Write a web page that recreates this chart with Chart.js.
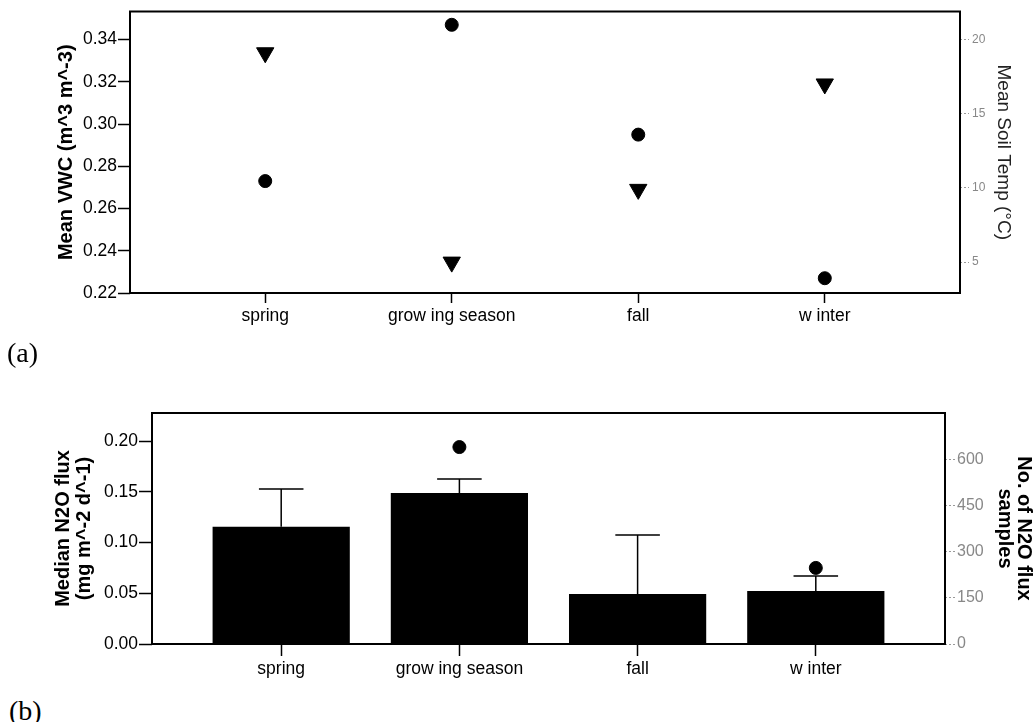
<!DOCTYPE html>
<html>
<head>
<meta charset="utf-8">
<script src="https://cdn.jsdelivr.net/npm/chart.js@4.4.0/dist/chart.umd.min.js"></script>
<style>
  body { margin: 0; background: #fff; }
  .panel { position: absolute; left: 0; }
  .tag { position: absolute; font-family: 'Liberation Serif', 'Times New Roman', serif; font-size: 28px; color: #000; }
</style>
</head>
<body>
<div class="panel" style="top:0"><canvas id="vwcChart" width="1035" height="340"></canvas></div>
<div class="tag" style="left:7px; top:337px">(a)</div>
<div class="panel" style="top:380px"><canvas id="fluxChart" width="1035" height="300"></canvas></div>
<div class="tag" style="left:9px; top:695px">(b)</div>
<script>
// seasons along the x axis
const seasons = ['spring', 'grow ing season', 'fall', 'w inter'];

// panel (a)
const vwcMean = [0.273, 0.347, 0.295, 0.227];
const soilTemp = [19.1, 5.0, 9.9, 17.0];
const vwcTicks = [0.22, 0.24, 0.26, 0.28, 0.30, 0.32, 0.34];
const tempTicks = [5, 10, 15, 20];

// panel (b)
const fluxMedian = [0.1155, 0.1488, 0.0493, 0.0522];
const fluxUpper = [0.1527, 0.1626, 0.1074, 0.0670];
const sampleCount = [null, 642, null, 248];
const fluxTicks = [0, 0.05, 0.10, 0.15, 0.20];
const sampleTicks = [0, 150, 300, 450, 600];

const sans = "'Liberation Sans', Arial, sans-serif";

function points(values) {
    return values.map((v, i) => ({ x: i, y: v }));
}

function fixedTicks(list) {
    return (s) => { s.ticks = list.map(v => ({ value: v })); };
}

// full black box around the plot area
const framePlugin = {
    id: 'frame',
    afterDraw(chart) {
        const ctx = chart.ctx;
        const a = chart.chartArea;
        ctx.save();
        ctx.strokeStyle = '#000';
        ctx.lineWidth = 2;
        ctx.strokeRect(a.left, a.top, a.right - a.left, a.bottom - a.top);
        ctx.restore();
    }
};

// upper whiskers on the bars
const errorBarPlugin = {
    id: 'errorBars',
    afterDatasetsDraw(chart) {
        const ctx = chart.ctx;
        const xs = chart.scales.x;
        const ys = chart.scales.y;
        const half = (xs.getPixelForValue(1) - xs.getPixelForValue(0)) * 0.125;
        ctx.save();
        ctx.strokeStyle = '#000';
        ctx.lineWidth = 1.5;
        fluxUpper.forEach((up, i) => {
            const px = xs.getPixelForValue(i);
            const y0 = ys.getPixelForValue(fluxMedian[i]);
            const y1 = ys.getPixelForValue(up);
            ctx.beginPath();
            ctx.moveTo(px, y0);
            ctx.lineTo(px, y1);
            ctx.moveTo(px - half, y1);
            ctx.lineTo(px + half, y1);
            ctx.stroke();
        });
        ctx.restore();
    }
};

function seasonAxis(tickLength, height) {
    return {
        type: 'linear',
        min: -0.725,
        max: 3.725,
        offset: false,
        border: { display: false },
        grid: { drawOnChartArea: false, offset: false, tickLength: tickLength, tickColor: '#000', tickWidth: 1.5 },
        ticks: {
            autoSkip: false,
            maxRotation: 0,
            padding: 3,
            color: '#000',
            font: { family: sans, size: 17.5 },
            callback: (v) => seasons[v]
        },
        afterBuildTicks: fixedTicks(seasons.map((s, i) => i)),
        afterFit: (s) => { s.height = height; }
    };
}

new Chart(document.getElementById('vwcChart').getContext('2d'), {
    type: 'scatter',
    data: {
        datasets: [{
            label: 'Mean VWC',
            data: points(vwcMean),
            yAxisID: 'y',
            pointStyle: 'circle',
            pointRadius: 6.5,
            backgroundColor: '#000',
            borderColor: '#000'
        }, {
            label: 'Mean Soil Temp',
            data: points(soilTemp),
            yAxisID: 'y2',
            pointStyle: 'triangle',
            pointRotation: 180,
            pointRadius: 10,
            backgroundColor: '#000',
            borderColor: '#000'
        }]
    },
    options: {
        responsive: false,
        animation: false,
        devicePixelRatio: 1,
        layout: { padding: { top: 11, left: 0, right: 0, bottom: 0 } },
        plugins: { legend: { display: false }, tooltip: { enabled: false } },
        scales: {
            x: seasonAxis(10, 47),
            y: {
                position: 'left',
                min: 0.22,
                max: 0.3533,
                border: { display: false },
                grid: { drawOnChartArea: false, tickLength: 12, tickColor: '#000', tickWidth: 1.5 },
                ticks: {
                    padding: 1,
                    color: '#000',
                    font: { family: sans, size: 17.5 },
                    callback: (v) => v.toFixed(2)
                },
                afterBuildTicks: fixedTicks(vwcTicks),
                title: {
                    display: true,
                    text: 'Mean VWC (m^3 m^-3)',
                    color: '#000',
                    font: { family: sans, size: 20, weight: 'bold', lineHeight: 1.2 },
                    padding: { top: 54, bottom: 0 }
                },
                afterFit: (s) => { s.width = 130; }
            },
            y2: {
                position: 'right',
                min: 2.92,
                max: 21.88,
                border: { display: false },
                grid: { drawOnChartArea: false, tickLength: 9, tickColor: '#999', tickWidth: 1, tickBorderDash: [2, 2] },
                ticks: {
                    padding: 3,
                    color: '#888',
                    font: { family: sans, size: 12 }
                },
                afterBuildTicks: fixedTicks(tempTicks),
                title: {
                    display: true,
                    text: 'Mean Soil Temp (°C)',
                    color: '#222',
                    font: { family: sans, size: 19, lineHeight: 1.2 },
                    padding: { top: 20, bottom: 0 }
                },
                afterFit: (s) => { s.width = 75; }
            }
        }
    },
    plugins: [framePlugin]
});

new Chart(document.getElementById('fluxChart').getContext('2d'), {
    type: 'bar',
    data: {
        datasets: [{
            type: 'scatter',
            label: 'No. of N2O flux samples',
            data: points(sampleCount),
            yAxisID: 'y2',
            order: 0,
            pointStyle: 'circle',
            pointRadius: 6.5,
            backgroundColor: '#000',
            borderColor: '#000'
        }, {
            type: 'bar',
            label: 'Median N2O flux',
            data: points(fluxMedian),
            yAxisID: 'y',
            order: 1,
            backgroundColor: '#000',
            borderWidth: 0,
            categoryPercentage: 1,
            barPercentage: 0.77
        }]
    },
    options: {
        responsive: false,
        animation: false,
        devicePixelRatio: 1,
        layout: { padding: { top: 33, left: 0, right: 0, bottom: 0 } },
        plugins: { legend: { display: false }, tooltip: { enabled: false } },
        scales: {
            x: seasonAxis(12, 36),
            y: {
                position: 'left',
                min: 0,
                max: 0.2276,
                border: { display: false },
                grid: { drawOnChartArea: false, tickLength: 13, tickColor: '#000', tickWidth: 1.5 },
                ticks: {
                    padding: 1,
                    color: '#000',
                    font: { family: sans, size: 17.5 },
                    callback: (v) => v.toFixed(2)
                },
                afterBuildTicks: fixedTicks(fluxTicks),
                title: {
                    display: true,
                    text: ['Median N2O flux', '(mg m^-2 d^-1)'],
                    color: '#000',
                    font: { family: sans, size: 20, weight: 'bold', lineHeight: 1.05 },
                    padding: { top: 53, bottom: 0 }
                },
                afterFit: (s) => { s.width = 152; }
            },
            y2: {
                position: 'right',
                min: 0,
                max: 753,
                border: { display: false },
                grid: { drawOnChartArea: false, tickLength: 10, tickColor: '#999', tickWidth: 1, tickBorderDash: [2, 2] },
                ticks: {
                    padding: 2,
                    color: '#888',
                    font: { family: sans, size: 16 }
                },
                afterBuildTicks: fixedTicks(sampleTicks),
                title: {
                    display: true,
                    text: ['No. of N2O flux', 'samples'],
                    color: '#000',
                    font: { family: sans, size: 20, weight: 'bold', lineHeight: 0.95 },
                    padding: { top: 2, bottom: 0 }
                },
                afterFit: (s) => { s.width = 90; }
            }
        }
    },
    plugins: [framePlugin, errorBarPlugin]
});
</script>
</body>
</html>
